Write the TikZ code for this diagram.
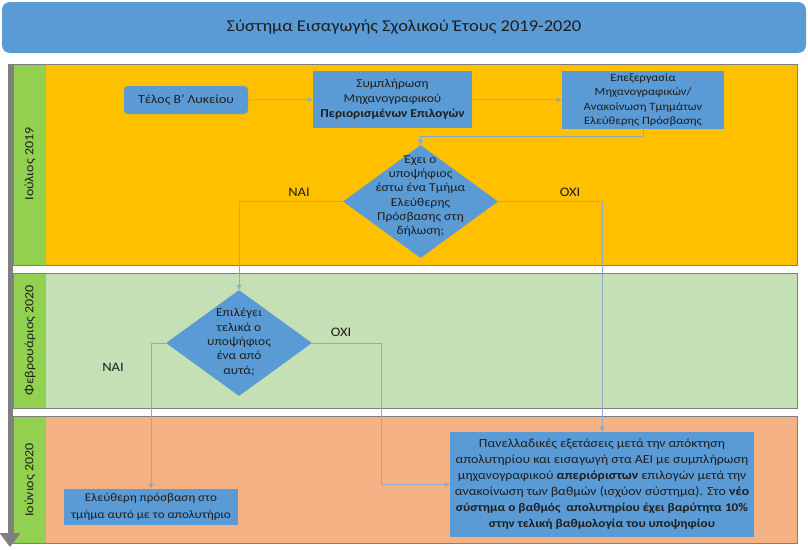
\documentclass[tikz,border=0pt]{standalone}
\usepackage{fontspec}
\setmainfont{Carlito}[FakeStretch=1.12]
\usetikzlibrary{arrows.meta,shapes.geometric}
\definecolor{tblue}{HTML}{5B9BD5}
\definecolor{nblue}{HTML}{5B9BD5}
\definecolor{lyellow}{HTML}{FFC000}
\definecolor{lgreen}{HTML}{C5E0B4}
\definecolor{lorange}{HTML}{F4B183}
\definecolor{strip}{HTML}{92D050}
\definecolor{lborder}{HTML}{7F7F7F}
\definecolor{conn}{HTML}{8FA9C9}
\definecolor{txt}{HTML}{1E1E1E}
\begin{document}
\begin{tikzpicture}[x=1pt,y=-1pt,
  lane/.style={draw=lborder,line width=0.8pt},
  stripbox/.style={fill=strip,draw=none},
  lanelabel/.style={rotate=90,text=txt,font=\fontsize{12.5}{14}\selectfont},
  box/.style={fill=nblue,draw=none,text=txt,align=center,font=\fontsize{10.5}{12.5}\selectfont,inner sep=0pt},
  dia/.style={diamond,fill=nblue,draw=none,inner sep=0pt},
  ditext/.style={text=txt,align=center,font=\fontsize{12}{14.3}\selectfont},
  yn/.style={text=txt,font=\fontsize{13}{15}\selectfont},
  conline/.style={draw=conn,line width=0.8pt},
  arr/.style={conline,-{Triangle[length=5pt,width=5pt]}}
]
\useasboundingbox (0,0) rectangle (808,549);
\fill[white] (0,0) rectangle (808,549);
% title
\node[fill=tblue,rounded corners=8pt,minimum width=804,minimum height=51,inner sep=0pt,text=txt,font=\fontsize{16.5}{20}\selectfont] (title) at (404,27.5) {Σύστημα Εισαγωγής Σχολικού Έτους 2019-2020};
% lanes
\fill[lyellow] (13,64) rectangle (797,265);
\fill[stripbox] (13,64) rectangle (46,265);
\draw[lane] (13,64) rectangle (797,265);
\fill[lgreen] (13,273) rectangle (797,408);
\fill[stripbox] (13,273) rectangle (46,408);
\draw[lane] (13,273) rectangle (797,408);
\fill[lorange] (13,416) rectangle (797,543);
\fill[stripbox] (13,416) rectangle (46,543);
\draw[lane] (13,416) rectangle (797,543);
\node[lanelabel] (l1) at (30,164) {Ιούλιος 2019};
\node[lanelabel] (l2) at (30,340) {Φεβρουάριος 2020};
\node[lanelabel] (l3) at (30,480) {Ιούνιος 2020};
% time arrow
\coordinate (ta) at (10,64);
\coordinate (tb) at (10,547);
\draw[line width=5pt,draw=lborder,-{Triangle[length=14pt,width=20pt]}] (ta) -- (tb);
% nodes
\node[box,rounded corners=4pt,minimum width=124,minimum height=28,font=\fontsize{12.3}{14}\selectfont] (n1) at (186,100) {Τέλος Β' Λυκείου};
\node[box,minimum width=159,minimum height=57,font=\fontsize{12}{15}\selectfont] (n2) at (392.5,99.5) {Συμπλήρωση\\Μηχανογραφικού\\\textbf{Περιορισμένων Επιλογών}};
\node[box,minimum width=162,minimum height=58,font=\fontsize{11.2}{14.6}\selectfont] (n3) at (643,100) {Επεξεργασία\\Μηχανογραφικών/\\Ανακοίνωση Τμημάτων\\Ελεύθερης Πρόσβασης};
\node[dia,minimum width=155,minimum height=113] (d1) at (420.5,201.5) {};
\node[ditext] (d1t) at (420.5,196) {Έχει ο\\υποψήφιος\\έστω ένα Τμήμα\\Ελεύθερης\\Πρόσβασης στη\\δήλωση;};
\node[dia,minimum width=146,minimum height=106] (d2) at (239,343) {};
\node[ditext] (d2t) at (239,342) {Επιλέγει\\τελικά ο\\υποψήφιος\\ένα από\\αυτά;};
\node[box,minimum width=174,minimum height=36,font=\fontsize{11.6}{16.5}\selectfont] (small) at (151,507) {Ελεύθερη πρόσβαση στο\\τμήμα αυτό με το απολυτήριο};
\node[box,minimum width=304,minimum height=105,font=\fontsize{12.3}{16}\selectfont] (big) at (602,484.5) {Πανελλαδικές εξετάσεις μετά την απόκτηση\\απολυτηρίου και εισαγωγή στα ΑΕΙ με συμπλήρωση\\μηχανογραφικού \textbf{απεριόριστων} επιλογών μετά την\\ανακοίνωση των βαθμών (ισχύον σύστημα). Στο \textbf{νέο}\\{\fontsize{11.8}{16}\selectfont\textbf{σύστημα ο βαθμός \ απολυτηρίου έχει βαρύτητα 10\%}}\\{\fontsize{11.8}{16}\selectfont\textbf{στην τελική βαθμολογία του υποψηφίου}}};
% labels
\node[yn] (yes1) at (299,192) {ΝΑΙ};
\node[yn] (no1) at (570,192) {ΟΧΙ};
\node[yn] (yes2) at (113,367) {ΝΑΙ};
\node[yn] (no2) at (341,332) {ΟΧΙ};
% connectors
\draw[arr] (n1) -- (n2);
\draw[arr] (n2) -- (n3);
\draw[arr] (n3.south) -- ++(0,7) -| (d1.north);
\draw[arr] (d1.west) -| (d2.north);
\draw[arr] (d1.east) -| (big.north);
\draw[arr] (d2.west) -| (small.north);
\draw[arr] (d2.east) -- ++(69,0) |- (big.west);
\end{tikzpicture}
\end{document}
